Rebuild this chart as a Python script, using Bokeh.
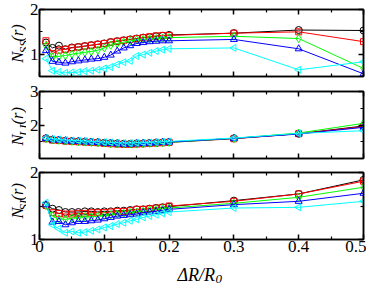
import numpy as np
from bokeh.plotting import figure
from bokeh.models import Range1d, FixedTicker, LinearAxis
from bokeh.core.properties import value
from bokeh.layouts import column, row
from bokeh.embed import file_html
from bokeh.resources import INLINE

# ---- data ----
dr = [0.01, 0.02, 0.03, 0.04, 0.05, 0.06, 0.07, 0.08, 0.09, 0.10,
      0.11, 0.12, 0.13, 0.14, 0.15, 0.16, 0.17, 0.18, 0.19, 0.20,
      0.30, 0.40, 0.50]

nss_black = [1.26, 1.14, 1.19, 1.11, 1.15, 1.16, 1.18, 1.20, 1.22, 1.24, 1.27, 1.29, 1.31, 1.33, 1.35, 1.37, 1.38, 1.40, 1.41, 1.43, 1.47, 1.54, 1.53]
nss_red   = [1.30, 1.01, 1.09, 1.11, 1.14, 1.16, 1.18, 1.20, 1.22, 1.24, 1.27, 1.29, 1.31, 1.33, 1.35, 1.37, 1.39, 1.41, 1.42, 1.42, 1.47, 1.50, 1.28]
nss_green = [1.19, 0.93, 0.95, 0.97, 1.00, 1.02, 1.04, 1.06, 1.09, 1.14, 1.20, 1.24, 1.27, 1.30, 1.32, 1.33, 1.34, 1.35, 1.36, 1.37, 1.40, 1.35, 0.68]
nss_blue  = [1.08, 0.84, 0.82, 0.80, 0.83, 0.85, 0.87, 0.89, 0.90, 0.93, 0.98, 1.07, 1.14, 1.19, 1.24, 1.26, 1.28, 1.29, 1.30, 1.30, 1.33, 1.12, 0.56]
nss_cyan  = [0.90, 0.63, 0.60, 0.58, 0.59, 0.60, 0.62, 0.63, 0.65, 0.68, 0.71, 0.77, 0.82, 0.85, 0.96, 0.99, 1.03, 1.07, 1.10, 1.12, 1.14, 0.65, 0.83]

nll_black = [1.60, 1.56, 1.55, 1.53, 1.52, 1.51, 1.50, 1.49, 1.48, 1.47, 1.46, 1.45, 1.44, 1.44, 1.45, 1.45, 1.46, 1.47, 1.48, 1.49, 1.60, 1.74, 1.97]
nll_red   = [1.59, 1.55, 1.54, 1.52, 1.51, 1.50, 1.49, 1.48, 1.47, 1.45, 1.44, 1.43, 1.42, 1.42, 1.43, 1.44, 1.45, 1.46, 1.47, 1.48, 1.59, 1.74, 1.95]
nll_green = [1.59, 1.55, 1.54, 1.52, 1.51, 1.50, 1.49, 1.48, 1.47, 1.46, 1.44, 1.43, 1.43, 1.43, 1.43, 1.44, 1.45, 1.46, 1.47, 1.48, 1.60, 1.76, 2.05]
nll_blue  = [1.60, 1.56, 1.55, 1.53, 1.52, 1.51, 1.50, 1.49, 1.48, 1.46, 1.45, 1.44, 1.43, 1.43, 1.44, 1.45, 1.46, 1.47, 1.48, 1.49, 1.60, 1.73, 1.93]
nll_cyan  = [1.62, 1.58, 1.57, 1.55, 1.54, 1.53, 1.52, 1.51, 1.50, 1.49, 1.48, 1.47, 1.46, 1.46, 1.47, 1.47, 1.48, 1.49, 1.50, 1.51, 1.61, 1.75, 1.83]

nsl_black = [1.51, 1.46, 1.44, 1.41, 1.41, 1.41, 1.42, 1.42, 1.41, 1.42, 1.42, 1.43, 1.43, 1.44, 1.45, 1.45, 1.46, 1.47, 1.48, 1.49, 1.58, 1.68, 1.89]
nsl_red   = [1.51, 1.40, 1.39, 1.38, 1.38, 1.39, 1.39, 1.40, 1.40, 1.40, 1.41, 1.42, 1.42, 1.43, 1.45, 1.45, 1.46, 1.47, 1.48, 1.50, 1.57, 1.68, 1.87]
nsl_green = [1.51, 1.35, 1.31, 1.30, 1.32, 1.33, 1.34, 1.34, 1.35, 1.36, 1.37, 1.38, 1.39, 1.40, 1.41, 1.42, 1.44, 1.45, 1.46, 1.47, 1.54, 1.63, 1.78]
nsl_blue  = [1.52, 1.26, 1.27, 1.22, 1.25, 1.27, 1.27, 1.28, 1.29, 1.31, 1.33, 1.35, 1.36, 1.37, 1.38, 1.40, 1.41, 1.42, 1.43, 1.45, 1.52, 1.57, 1.69]
nsl_cyan  = [1.55, 1.22, 1.16, 1.10, 1.12, 1.10, 1.11, 1.13, 1.15, 1.18, 1.20, 1.23, 1.25, 1.28, 1.30, 1.33, 1.35, 1.37, 1.39, 1.41, 1.47, 1.48, 1.57]

x_ticks = [0.0, 0.1, 0.2, 0.3, 0.4, 0.5]
x_minor = [0.05, 0.15, 0.25, 0.35, 0.45]

colors = ["black", "red", "#00ff00", "blue", "#00ffff"]
markers = ["circle", "square", "diamond", "triangle", "triangle"]
angles = [0, 0, 0, 0, np.pi / 2]
sizes = [7, 6, 8, 7, 7]

FONT = "Liberation Serif"
xr = Range1d(0, 0.5)

LBL_W = 26      # width of the y-label strip
MAIN_W = 340    # width of each panel figure
BORDER_L = 9
BORDER_R = 3


def style_axis(ax, ticks, minor, show_labels):
    ax.ticker = FixedTicker(ticks=ticks, minor_ticks=minor)
    ax.major_tick_in = 5
    ax.major_tick_out = 0
    ax.minor_tick_in = 3
    ax.minor_tick_out = 0
    ax.axis_line_color = "black"
    ax.axis_line_width = 1.5
    ax.major_tick_line_width = 1.5
    ax.minor_tick_line_width = 1.2
    ax.major_tick_line_color = "black"
    ax.minor_tick_line_color = "black"
    if show_labels:
        ax.major_label_text_font = FONT
        ax.major_label_text_font_size = "17px"
        ax.major_label_text_color = "black"
        ax.major_label_standoff = 1
    else:
        ax.major_label_text_font_size = "0px"
        ax.major_label_text_color = None
        ax.major_label_standoff = 0


def blank_fig(width, height):
    f = figure(width=width, height=height, x_range=Range1d(0, width),
               y_range=Range1d(0, height), output_backend="svg", title=None,
               toolbar_location=None, min_border=0,
               x_axis_location=None, y_axis_location=None)
    f.xgrid.visible = False
    f.ygrid.visible = False
    f.outline_line_color = None
    f.background_fill_color = "white"
    f.border_fill_color = "white"
    return f


def make_panel(height, top, bottom, yrange, yticks, yminor, series, sub, show_x):
    p = figure(width=MAIN_W, height=height, x_range=xr, y_range=Range1d(*yrange),
               output_backend="svg", toolbar_location=None, title=None,
               min_border_left=BORDER_L, min_border_right=BORDER_R,
               min_border_top=top, min_border_bottom=bottom)
    p.xgrid.visible = False
    p.ygrid.visible = False
    p.outline_line_color = "black"
    p.outline_line_width = 1.5
    p.background_fill_color = "white"
    p.border_fill_color = "white"
    style_axis(p.xaxis[0], x_ticks, x_minor, show_x)
    style_axis(p.yaxis[0], yticks, yminor, True)
    top_ax = LinearAxis()
    style_axis(top_ax, x_ticks, x_minor, False)
    p.add_layout(top_ax, "above")
    right_ax = LinearAxis()
    style_axis(right_ax, yticks, yminor, False)
    p.add_layout(right_ax, "right")

    for ys, c, m, a, s in zip(series, colors, markers, angles, sizes):
        p.line(dr, ys, line_color=c, line_width=1)
        p.scatter(dr, ys, marker=m, angle=a, size=s, fill_color=None,
                  line_color=c, line_width=1)

    # y-axis label strip: N_xx(r), rotated, drawn as real text
    lab = blank_fig(LBL_W, height)
    fh = height - top - bottom
    cy = bottom + fh / 2
    w_n, w_sub, w_r = 11.0, 13.0, 17.5
    y0 = cy - (w_n + w_sub + w_r + 2) / 2
    common = dict(angle=np.pi / 2, text_font=value(FONT), text_font_style="italic",
                  text_color="black", text_align="left", text_baseline="alphabetic")
    lab.text(x=[17], y=[y0], text=["N"], text_font_size="16.5px", **common)
    lab.text(x=[23], y=[y0 + w_n + 0.5], text=[sub], text_font_size="13px", **common)
    lab.text(x=[17], y=[y0 + w_n + w_sub + 1.5], text=["(r)"], text_font_size="16.5px", **common)
    return row(lab, p, spacing=0)


r1 = make_panel(81, 9, 5, (0.5, 2), [1, 2], [0.5, 1.5],
                [nss_black, nss_red, nss_green, nss_blue, nss_cyan], "SS", False)
r2 = make_panel(81, 10, 4, (1, 3), [2, 3], [1.5, 2.5],
                [nll_black, nll_red, nll_green, nll_blue, nll_cyan], "LL", False)
r3 = make_panel(95, 10, 18, (1, 2), [1, 2], [1.5],
                [nsl_black, nsl_red, nsl_green, nsl_blue, nsl_cyan], "SL", True)

# x-axis title strip: ΔR/R0
tf = blank_fig(LBL_W + MAIN_W, 27)
frame_w = MAIN_W - BORDER_L - BORDER_R
cx = LBL_W + BORDER_L + frame_w / 2 - 22
tcommon = dict(text_font=value(FONT), text_font_style="italic", text_color="black",
               text_align="left", text_baseline="alphabetic")
tf.text(x=[cx], y=[10], text=["\u0394R/R"], text_font_size="18px", **tcommon)
tf.text(x=[cx + 38], y=[6], text=["0"], text_font_size="13px", **tcommon)

layout = column(r1, r2, r3, tf, spacing=0)
open("out.html", "w").write(file_html(layout, INLINE))
